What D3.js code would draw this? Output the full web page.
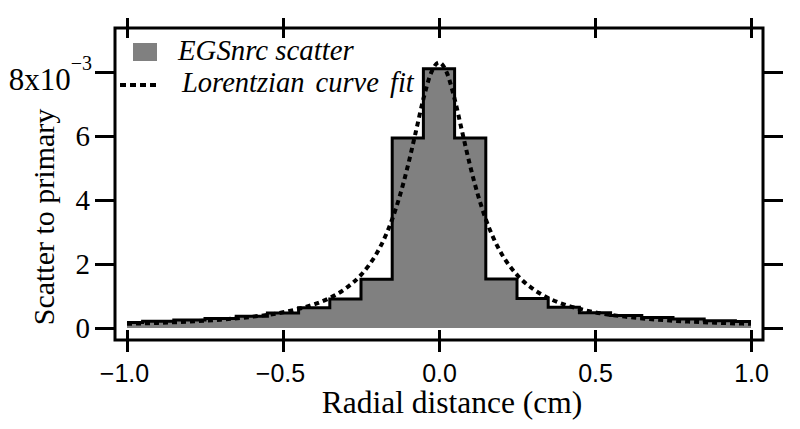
<!DOCTYPE html>
<html>
<head>
<meta charset="utf-8">
<script src="https://cdn.jsdelivr.net/npm/d3@7"></script>
<style>
  html, body { margin: 0; padding: 0; background: #fff; }
  svg { display: block; }
  .serif { font-family: "Liberation Serif", "Tinos", "Times New Roman", Times, "Nimbus Roman", "DejaVu Serif", serif; }
  .sans { font-family: "Liberation Sans", Arimo, Arial, Helvetica, sans-serif; }
</style>
</head>
<body>
<svg id="chart" width="800" height="429"></svg>
<script>
// ---- Data (scatter-to-primary values in units of 1e-3) ----
// Histogram bins: [left edge, right edge] in cm
const binEdges = [-1.0, -0.95, -0.85, -0.75, -0.65, -0.55, -0.45, -0.35, -0.25, -0.15, -0.05,
                  0.05, 0.15, 0.25, 0.35, 0.45, 0.55, 0.65, 0.75, 0.85, 0.95, 1.0];
const binValues = [0.17, 0.21, 0.25, 0.30, 0.37, 0.47, 0.63, 0.91, 1.52, 5.94,
                   8.10,
                   5.94, 1.53, 0.92, 0.65, 0.48, 0.39, 0.33, 0.28, 0.23, 0.20];
const fitX = [-1.0, -0.9, -0.8, -0.7, -0.6, -0.5, -0.45, -0.4, -0.35, -0.3, -0.25, -0.2, -0.175, -0.15, -0.125, -0.1, -0.075, -0.05, -0.025,
              0,
              0.025, 0.05, 0.075, 0.1, 0.125, 0.15, 0.175, 0.2, 0.25, 0.3, 0.35, 0.4, 0.45, 0.5, 0.6, 0.7, 0.8, 0.9, 1.0];
const fitY = [0.13, 0.16, 0.20, 0.26, 0.35, 0.49, 0.60, 0.74, 0.94, 1.23, 1.66, 2.33, 2.80, 3.40, 4.15, 5.06, 6.10, 7.16, 7.98,
              8.30,
              7.98, 7.16, 6.10, 5.06, 4.15, 3.40, 2.80, 2.33, 1.66, 1.23, 0.94, 0.74, 0.60, 0.49, 0.35, 0.26, 0.20, 0.16, 0.13];
const xTicks = [-1.0, -0.5, 0.0, 0.5, 1.0];
const yTicks = [0, 2, 4, 6, 8];
const legendLabels = ["EGSnrc scatter", "Lorentzian curve fit"];
const xTitle = "Radial distance (cm)";
const yTitle = "Scatter to primary";

// ---- Layout ----
const svg = d3.select("#chart");
const frame = { left: 115, right: 763, top: 28, bottom: 340 };
const x = d3.scaleLinear().domain([-1, 1]).range([127, 751]);
const y = d3.scaleLinear().domain([0, 8]).range([328, 72]);

// ---- Histogram ----
const bins = binValues.map((v, i) => ({ x0: binEdges[i], x1: binEdges[i + 1], v }));
const stepPts = [];
bins.forEach(b => { stepPts.push([b.x0, b.v]); stepPts.push([b.x1, b.v]); });

svg.append("path")
  .datum(stepPts)
  .attr("d", d3.area().x(d => x(d[0])).y0(y(0)).y1(d => y(d[1])))
  .attr("fill", "#808080");

svg.append("path")
  .datum(stepPts)
  .attr("d", d3.line().x(d => x(d[0])).y(d => y(d[1])))
  .attr("fill", "none")
  .attr("stroke", "#000")
  .attr("stroke-width", 3);

// ---- Lorentzian fit ----
const fitPts = fitX.map((xv, i) => [xv, fitY[i]]);
svg.append("path")
  .datum(fitPts)
  .attr("d", d3.line().x(d => x(d[0])).y(d => y(d[1])).curve(d3.curveMonotoneX))
  .attr("fill", "none")
  .attr("stroke", "#000")
  .attr("stroke-width", 4)
  .attr("stroke-dasharray", "5,4");

// ---- Frame ----
svg.append("rect")
  .attr("x", frame.left).attr("y", frame.top)
  .attr("width", frame.right - frame.left).attr("height", frame.bottom - frame.top)
  .attr("fill", "none").attr("stroke", "#000").attr("stroke-width", 3);

function styleAxis(g) {
  g.attr("font-family", null).attr("font-size", null);
  g.select(".domain").remove();
  g.selectAll(".tick line").attr("stroke", "#000").attr("stroke-width", 3);
}

// bottom axis (ticks cross the frame line)
const fmtX = d => (d < 0 ? "\u2212" : "") + Math.abs(d).toFixed(1);
const gb = svg.append("g").attr("transform", `translate(0,${frame.bottom - 10})`)
  .call(d3.axisBottom(x).tickValues(xTicks).tickSize(22).tickPadding(12).tickFormat(fmtX));
styleAxis(gb);
gb.selectAll(".tick text").attr("class", "sans").style("font-size", "25px").attr("fill", "#000")
  .attr("dx", d => d < 0 ? -3 : 0);

// top axis
const gt = svg.append("g").attr("transform", `translate(0,${frame.top - 10})`)
  .call(d3.axisBottom(x).tickValues(xTicks).tickSize(20).tickFormat(""));
styleAxis(gt);

// left axis
const gl = svg.append("g").attr("transform", `translate(${frame.left},0)`)
  .call(d3.axisLeft(y).tickValues(yTicks).tickSize(20).tickPadding(5).tickFormat(d => d === 8 ? "" : d));
styleAxis(gl);
gl.selectAll(".tick text").attr("class", "serif").style("font-size", "29px").attr("fill", "#000").attr("dy", "0.34em");

// special exponent label for top tick
const lab8 = svg.append("text")
  .attr("class", "serif")
  .attr("x", 92).attr("y", y(8) + 18)
  .attr("text-anchor", "end")
  .style("font-size", "31px").attr("fill", "#000");
lab8.append("tspan").text("8x10");
lab8.append("tspan").attr("dy", -20).style("font-size", "20px").text("\u22123");

// right axis
const gr = svg.append("g").attr("transform", `translate(${frame.right},0)`)
  .call(d3.axisRight(y).tickValues(yTicks).tickSize(20).tickFormat(""));
styleAxis(gr);

// ---- Titles ----
svg.append("text")
  .attr("class", "serif")
  .attr("x", 452).attr("y", 413)
  .attr("text-anchor", "middle")
  .style("font-size", "31.5px").attr("fill", "#000")
  .text(xTitle);

svg.append("text")
  .attr("class", "serif")
  .attr("transform", "translate(54,217) rotate(-90)")
  .attr("text-anchor", "middle")
  .style("font-size", "30px").attr("fill", "#000")
  .text(yTitle);

// ---- Legend ----
svg.append("rect")
  .attr("x", 133).attr("y", 43).attr("width", 24).attr("height", 18)
  .attr("fill", "#808080");
svg.append("line")
  .attr("x1", 120).attr("x2", 158).attr("y1", 85).attr("y2", 85)
  .attr("stroke", "#000").attr("stroke-width", 4).attr("stroke-dasharray", "6,4");

svg.append("text")
  .attr("class", "serif")
  .attr("x", 178).attr("y", 60)
  .style("font-style", "italic").style("font-size", "28.8px").attr("fill", "#000")
  .text(legendLabels[0]);
svg.append("text")
  .attr("class", "serif")
  .attr("x", 182).attr("y", 92)
  .style("font-style", "italic").style("font-size", "28.5px").attr("fill", "#000")
  .style("word-spacing", "4px")
  .text(legendLabels[1]);
</script>
</body>
</html>
